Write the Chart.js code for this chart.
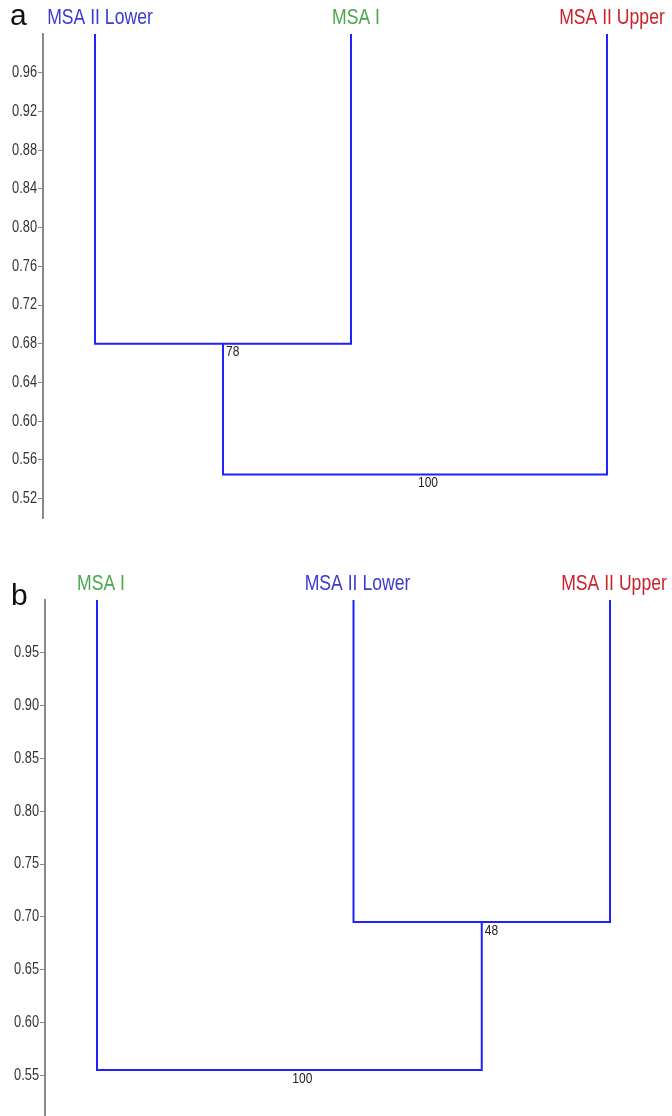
<!DOCTYPE html>
<html lang="en">
<head>
<meta charset="UTF-8">
<title>MSA dendrograms</title>
<script src="https://cdn.jsdelivr.net/npm/chart.js"></script>
<style>
  html, body { margin: 0; padding: 0; background: #fff; overflow: hidden; }
  body { width: 672px; height: 1116px; position: relative; font-family: 'Liberation Sans', Arial, sans-serif; }
  .panel { position: absolute; left: 0; }
  .tag { position: absolute; font-size: 30px; line-height: 1; color: #111; }
</style>
</head>
<body>

<div class="panel" style="top:0"><canvas id="chartA" width="672" height="528"></canvas></div>
<div class="panel" style="top:565px"><canvas id="chartB" width="672" height="573"></canvas></div>
<div class="tag" style="left:10px; top:0px">a</div>
<div class="tag" style="left:11px; top:580px">b</div>

<script>
// panel a
const leavesA = ['MSA II Lower', 'MSA I', 'MSA II Upper'];
const labelColorsA = ['#3a3ad4', '#4aa84a', '#cc2229'];
// children: 0..n-1 are leaves, n+k is the k-th join
const joinsA = [[0, 1], [3, 2]];
const heightsA = [0.68, 0.545];
const supportA = [78, 100];
const ticksA = [0.52, 0.56, 0.60, 0.64, 0.68, 0.72, 0.76, 0.80, 0.84, 0.88, 0.92, 0.96];

// panel b
const leavesB = ['MSA I', 'MSA II Lower', 'MSA II Upper'];
const labelColorsB = ['#4aa84a', '#3a3ad4', '#cc2229'];
const joinsB = [[1, 2], [0, 3]];
const heightsB = [0.695, 0.555];
const supportB = [48, 100];
const ticksB = [0.55, 0.60, 0.65, 0.70, 0.75, 0.80, 0.85, 0.90, 0.95];

const FONT = '"Liberation Sans", Arial, sans-serif';

// turn the joins into one polyline with gaps
function buildTree(leaves, joins, heights) {
  const nodes = leaves.map((_, i) => ({ x: i, y: 1 }));
  const pts = [];
  joins.forEach((pair, k) => {
    const a = nodes[pair[0]], b = nodes[pair[1]], h = heights[k];
    pts.push({ x: a.x, y: a.y }, { x: a.x, y: h }, { x: b.x, y: h }, { x: b.x, y: b.y }, { x: b.x, y: null });
    nodes.push({ x: (a.x + b.x) / 2, y: h });
  });
  return { pts, joinNodes: nodes.slice(leaves.length) };
}

// the original figure is squeezed sideways, so squeeze the text the same way
const narrowText = {
  id: 'narrowText',
  beforeInit(chart) {
    const ctx = chart.ctx;
    const fill = ctx.fillText.bind(ctx);
    ctx.fillText = function (text, x, y) {
      ctx.save();
      ctx.translate(x, y);
      ctx.scale(0.8, 1);
      fill(text, 0, 0);
      ctx.restore();
    };
  }
};

const supportLabels = {
  id: 'supportLabels',
  afterDatasetsDraw(chart, args, opts) {
    const { ctx } = chart;
    const x = chart.scales.x, y = chart.scales.y;
    ctx.save();
    ctx.font = '15px ' + FONT;
    ctx.fillStyle = '#222';
    ctx.textAlign = 'left';
    ctx.textBaseline = 'top';
    opts.nodes.forEach((n, i) => {
      ctx.fillText(String(opts.values[i]), x.getPixelForValue(n.x) + 3, y.getPixelForValue(n.y) + 1);
    });
    ctx.restore();
  }
};

function drawDendrogram(id, leaves, colors, joins, heights, support, ticks, axisWidth, topHeight, xMin, xMax, nudge) {
  const tree = buildTree(leaves, joins, heights);
  new Chart(document.getElementById(id), {
    type: 'line',
    data: {
      datasets: [{
        data: tree.pts,
        borderColor: '#2020ff',
        borderWidth: 2,
        pointRadius: 0,
        tension: 0,
        spanGaps: false
      }]
    },
    options: {
      responsive: false,
      animation: false,
      layout: { autoPadding: false, padding: { left: 0, right: 0, top: 0, bottom: 10 } },
      plugins: {
        legend: { display: false },
        tooltip: { enabled: false },
        supportLabels: { nodes: tree.joinNodes, values: support }
      },
      scales: {
        x: {
          type: 'linear',
          position: 'top',
          min: xMin,
          max: xMax,
          afterFit: s => { s.height = topHeight; s.paddingLeft = 0; s.paddingRight = 0; },
          afterBuildTicks: s => { s.ticks = leaves.map((_, i) => ({ value: i })); },
          ticks: {
            autoSkip: false,
            maxRotation: 0,
            padding: 3,
            labelOffset: nudge,
            callback: v => leaves[v],
            color: c => colors[c.index],
            font: { family: FONT, size: 22 }
          },
          grid: { display: false, drawTicks: false },
          border: { display: false }
        },
        y: {
          type: 'linear',
          min: 0.5,
          max: 1.0,
          afterFit: s => { s.width = axisWidth; s.paddingTop = 0; s.paddingBottom = 0; },
          afterBuildTicks: s => { s.ticks = ticks.map(v => ({ value: v })); },
          ticks: {
            padding: 1,
            color: '#333',
            callback: v => v.toFixed(2),
            font: { family: FONT, size: 16 }
          },
          grid: { drawOnChartArea: false, drawTicks: true, tickLength: 5, color: '#888', lineWidth: 1 },
          border: { display: true, color: '#888', width: 2 }
        }
      }
    },
    plugins: [narrowText, supportLabels]
  });
}

drawDendrogram('chartA', leavesA, labelColorsA, joinsA, heightsA, supportA, ticksA, 43, 34, -0.2031, 2.254, 5);
drawDendrogram('chartB', leavesB, labelColorsB, joinsB, heightsB, supportB, ticksB, 45, 35, -0.2027, 2.2417, 4);
</script>

</body>
</html>
